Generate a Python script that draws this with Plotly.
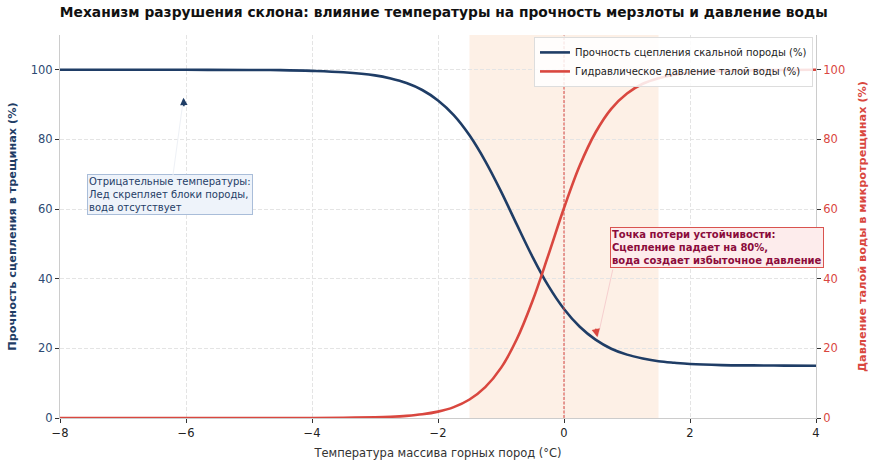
import plotly.graph_objects as go

temperature = [-8, -7, -6, -5, -4.5, -4, -3.5, -3, -2.75, -2.5, -2.25, -2, -1.75, -1.5, -1.25,
               -1, -0.75, -0.5, -0.25, 0, 0.25, 0.5, 0.75, 1, 1.25, 1.5, 1.75, 2, 2.5, 3,
               3.5, 4]
strength = [100.0, 100.0, 100.0, 99.96, 99.9, 99.7, 99.3, 98.4, 97.5, 96.2, 94.2, 91.2, 87.0,
            81.2, 73.8, 65.1, 55.6, 46.3, 38.0, 31.3, 26.2, 22.5, 19.9, 18.2, 17.1, 16.3,
            15.85, 15.5, 15.2, 15.1, 15.05, 15.0]
pressure = [0.0, 0.0, 0.0, 0.0, 0.01, 0.02, 0.07, 0.21, 0.36, 0.62, 1.06, 1.83, 3.13, 5.32,
            8.87, 14.4, 22.6, 33.6, 46.7, 60.3, 72.5, 82.0, 88.8, 93.2, 96.0, 97.6, 98.6,
            99.2, 99.7, 99.9, 99.96, 100.0]
x_ticks = [-8, -6, -4, -2, 0, 2, 4]
x_tick_labels = ["−8", "−6", "−4", "−2", "0", "2", "4"]
y_ticks = [0, 20, 40, 60, 80, 100]

BLUE = "#1f3d66"
RED = "#d9473f"
FONT = "DejaVu Sans"

fig = go.Figure()
fig.add_trace(go.Scatter(x=temperature, y=strength, mode="lines",
                         line=dict(color=BLUE, width=2.6, shape="spline", smoothing=1.0),
                         name="Прочность сцепления скальной породы (%)"))
fig.add_trace(go.Scatter(x=temperature, y=pressure, mode="lines", yaxis="y2",
                         line=dict(color=RED, width=2.6, shape="spline", smoothing=1.0),
                         name="Гидравлическое давление талой воды (%)"))

fig.add_shape(type="rect", x0=-1.5, x1=1.5, y0=0, y1=1, xref="x", yref="paper",
              fillcolor="rgba(252,226,206,0.5)", line=dict(width=0), layer="below")
fig.add_shape(type="line", x0=0, x1=0, y0=0, y1=1, xref="x", yref="paper",
              line=dict(color="rgba(217,71,63,0.85)", width=1.2, dash="3px,1.5px"))

# Annotation 1: box, faint connector, dark head
fig.add_annotation(x=-6.25, y=64.1, xref="x", yref="y", showarrow=False,
                   text="Отрицательные температуры:<br>Лед скрепляет блоки породы,<br>вода отсутствует",
                   font=dict(family=FONT, size=10, color=BLUE), align="left",
                   bgcolor="#eef3fa", bordercolor="#a9bdd9", borderwidth=1, borderpad=1)
fig.add_annotation(x=-6.05, y=90.5, xref="x", yref="y", ax=-6.21, ay=69.3, axref="x", ayref="y",
                   text="", showarrow=True, arrowhead=0, arrowwidth=1, arrowcolor="#eef1f6")
fig.add_annotation(x=-6.04, y=92, xref="x", yref="y", ax=0.5, ay=10, text="",
                   showarrow=True, arrowhead=2, arrowsize=1.0, arrowwidth=1.5, arrowcolor=BLUE)

# Annotation 2: box, faint connector, red head
fig.add_annotation(x=2.43, y=48.9, xref="x", yref="y", showarrow=False,
                   text="<b>Точка потери устойчивости:<br>Сцепление падает на 80%,<br>вода создает избыточное давление</b>",
                   font=dict(family=FONT, size=10, color="#8b0b3b"), align="left",
                   bgcolor="#fdecec", bordercolor="#d9534f", borderwidth=1, borderpad=1)
fig.add_annotation(x=0.54, y=23.5, xref="x", yref="y", ax=0.78, ay=43.1, axref="x", ayref="y",
                   text="", showarrow=True, arrowhead=0, arrowwidth=1, arrowcolor="#f6cfcf")
fig.add_annotation(x=0.53, y=23.2, xref="x", yref="y", ax=-2, ay=-10, text="",
                   showarrow=True, arrowhead=2, arrowsize=1.1, arrowwidth=1.5, arrowcolor=RED)

fig.update_layout(
    width=877, height=469,
    margin=dict(l=60, r=61, t=35, b=51, autoexpand=False),
    paper_bgcolor="white", plot_bgcolor="white",
    font=dict(family=FONT, size=11, color="#333333"),
    title=dict(text="<b>Механизм разрушения склона: влияние температуры на прочность мерзлоты и давление воды</b>",
               x=0.506, xanchor="center", y=0.973, yanchor="middle",
               font=dict(family=FONT, size=13.8, color="#111111")),
    showlegend=True,
    legend=dict(x=0.996, y=0.995, xanchor="right", yanchor="top",
                bgcolor="rgba(255,255,255,0.85)", bordercolor="#dddddd", borderwidth=1,
                font=dict(family=FONT, size=10, color="#222222"),
                tracegroupgap=0, itemwidth=30),
    xaxis=dict(range=[-8, 4], tickvals=x_ticks, ticktext=x_tick_labels, automargin=False,
               showgrid=True, gridcolor="#e4e4e4", griddash="4px,2px", gridwidth=1,
               showline=True, linecolor="#cccccc", linewidth=1, zeroline=False,
               ticks="outside", ticklen=4, tickcolor="#333333",
               tickfont=dict(family=FONT, size=11.5, color="#222222"),
               title=dict(text="Температура массива горных пород (°C)", standoff=10,
                          font=dict(family=FONT, size=11.5, color="#333333"))),
    yaxis=dict(range=[0, 110], tickvals=y_ticks, automargin=False,
               showgrid=True, gridcolor="#e4e4e4", griddash="4px,2px", gridwidth=1,
               showline=True, linecolor="#cccccc", linewidth=1, zeroline=False,
               ticks="outside", ticklen=4, tickcolor="#333333",
               tickfont=dict(family=FONT, size=11.5, color="#2d4a73"),
               title=dict(text="<b>Прочность сцепления в трещинах (%)</b>", standoff=11,
                          font=dict(family=FONT, size=11.3, color=BLUE))),
    yaxis2=dict(range=[0, 110], tickvals=y_ticks, overlaying="y", side="right", automargin=False,
                showgrid=False, showline=True, linecolor="#cccccc", linewidth=1, zeroline=False,
                ticks="outside", ticklen=4, tickcolor="#333333",
                tickfont=dict(family=FONT, size=11.5, color=RED),
                title=dict(text="<b>Давление талой воды в микротрещинах (%)</b>", standoff=13,
                           font=dict(family=FONT, size=11.3, color=RED))),
)

fig.write_html("out.html", config={"displayModeBar": False},
               post_script="document.body.style.margin='0';")
